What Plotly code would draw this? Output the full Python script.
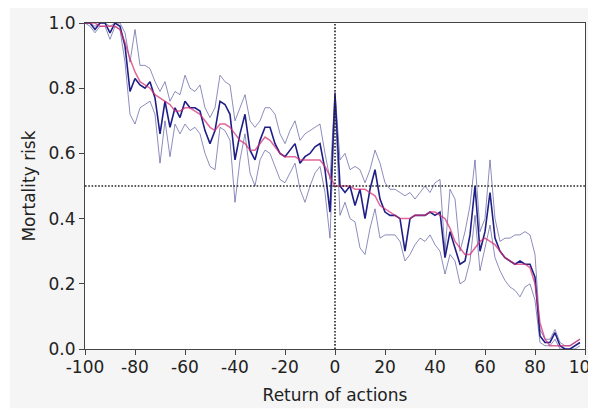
import plotly.graph_objects as go

x_vals = list(range(-100, 100, 2))

mean_risk = [1.00, 1.00, 0.98, 1.00, 1.00, 0.97, 1.00, 0.99, 0.93, 0.79,
             0.83, 0.81, 0.80, 0.82, 0.77, 0.66, 0.76, 0.68, 0.74, 0.71,
             0.76, 0.74, 0.74, 0.73, 0.67, 0.63, 0.67, 0.76, 0.75, 0.72,
             0.58, 0.66, 0.72, 0.61, 0.58, 0.64, 0.68, 0.68, 0.63, 0.60,
             0.59, 0.61, 0.63, 0.57, 0.59, 0.60, 0.62, 0.63, 0.55, 0.42,
             0.78, 0.50, 0.48, 0.50, 0.44, 0.49, 0.40, 0.49, 0.55, 0.46,
             0.42, 0.41, 0.41, 0.40, 0.30, 0.40, 0.41, 0.41, 0.41, 0.42,
             0.41, 0.42, 0.28, 0.36, 0.31, 0.26, 0.27, 0.35, 0.50, 0.30,
             0.36, 0.48, 0.34, 0.30, 0.28, 0.27, 0.26, 0.27, 0.26, 0.26,
             0.22, 0.04, 0.02, 0.02, 0.05, 0.01, 0.00, 0.00, 0.01, 0.02]

upper_risk = [1.00, 1.00, 0.99, 1.00, 1.00, 0.99, 1.00, 1.00, 0.97, 0.88,
              0.98, 0.87, 0.87, 0.86, 0.82, 0.79, 0.82, 0.76, 0.79, 0.78,
              0.84, 0.80, 0.79, 0.81, 0.74, 0.71, 0.74, 0.84, 0.82, 0.81,
              0.70, 0.74, 0.78, 0.70, 0.68, 0.70, 0.74, 0.74, 0.72, 0.66,
              0.63, 0.67, 0.70, 0.64, 0.66, 0.67, 0.68, 0.69, 0.60, 0.52,
              0.79, 0.58, 0.60, 0.55, 0.56, 0.55, 0.51, 0.55, 0.61, 0.57,
              0.51, 0.49, 0.49, 0.48, 0.47, 0.48, 0.46, 0.48, 0.50, 0.48,
              0.51, 0.52, 0.30, 0.49, 0.46, 0.30, 0.36, 0.44, 0.58, 0.36,
              0.40, 0.58, 0.40, 0.33, 0.34, 0.34, 0.35, 0.35, 0.36, 0.35,
              0.29, 0.06, 0.03, 0.03, 0.06, 0.02, 0.01, 0.01, 0.02, 0.03]

lower_risk = [1.00, 0.99, 0.97, 0.99, 0.99, 0.95, 0.99, 0.98, 0.88, 0.72,
              0.69, 0.74, 0.75, 0.76, 0.72, 0.57, 0.70, 0.59, 0.69, 0.66,
              0.69, 0.67, 0.68, 0.66, 0.60, 0.56, 0.55, 0.68, 0.67, 0.64,
              0.45, 0.58, 0.66, 0.54, 0.50, 0.58, 0.61, 0.60, 0.56, 0.52,
              0.51, 0.54, 0.57, 0.49, 0.45, 0.50, 0.54, 0.56, 0.48, 0.34,
              0.76, 0.41, 0.45, 0.40, 0.39, 0.31, 0.29, 0.37, 0.43, 0.34,
              0.35, 0.35, 0.35, 0.33, 0.27, 0.29, 0.32, 0.34, 0.33, 0.35,
              0.32, 0.30, 0.23, 0.29, 0.27, 0.20, 0.21, 0.27, 0.41, 0.24,
              0.31, 0.38, 0.28, 0.24, 0.21, 0.19, 0.18, 0.16, 0.19, 0.20,
              0.15, 0.02, 0.01, 0.01, 0.03, 0.00, 0.00, 0.00, 0.00, 0.01]

smooth_risk = [1.00, 1.00, 1.00, 0.99, 0.99, 0.99, 0.99, 0.98, 0.94, 0.89,
               0.85, 0.82, 0.81, 0.80, 0.78, 0.77, 0.76, 0.75, 0.73, 0.73,
               0.74, 0.74, 0.73, 0.72, 0.70, 0.68, 0.67, 0.69, 0.69, 0.68,
               0.66, 0.64, 0.63, 0.61, 0.61, 0.63, 0.65, 0.64, 0.62, 0.60,
               0.59, 0.59, 0.59, 0.58, 0.58, 0.58, 0.58, 0.58, 0.56, 0.53,
               0.50, 0.50, 0.50, 0.50, 0.49, 0.49, 0.49, 0.48, 0.47, 0.44,
               0.43, 0.42, 0.41, 0.40, 0.40, 0.40, 0.41, 0.41, 0.41, 0.42,
               0.42, 0.41, 0.40, 0.37, 0.33, 0.31, 0.29, 0.29, 0.31, 0.33,
               0.34, 0.33, 0.32, 0.30, 0.28, 0.27, 0.26, 0.26, 0.26, 0.25,
               0.20, 0.08, 0.03, 0.01, 0.01, 0.01, 0.01, 0.01, 0.02, 0.03]

x_ticks = [-100, -80, -60, -40, -20, 0, 20, 40, 60, 80, 100]
x_tick_labels = ["-100", "-80", "-60", "-40", "-20", "0", "20", "40", "60", "80", "100"]
y_ticks = [0.0, 0.2, 0.4, 0.6, 0.8, 1.0]
y_tick_labels = ["0.0", "0.2", "0.4", "0.6", "0.8", "1.0"]

fig = go.Figure()
bound_style = dict(color="rgba(75,75,150,0.8)", width=0.8)
fig.add_trace(go.Scatter(x=x_vals, y=upper_risk, mode="lines", line=bound_style, showlegend=False))
fig.add_trace(go.Scatter(x=x_vals, y=lower_risk, mode="lines", line=bound_style, showlegend=False))
fig.add_trace(go.Scatter(x=x_vals, y=mean_risk, mode="lines",
                         line=dict(color="#1e1e86", width=1.6), showlegend=False))
fig.add_trace(go.Scatter(x=x_vals, y=smooth_risk, mode="lines",
                         line=dict(color="rgba(210,45,115,0.72)", width=1.5), showlegend=False))

# gray figure background, white plotting area
fig.add_shape(type="rect", xref="paper", yref="paper", x0=-0.150, x1=1.017, y0=-0.182, y1=1.048,
              fillcolor="#f5f5f5", line=dict(width=0), layer="below")
fig.add_shape(type="rect", xref="paper", yref="paper", x0=0, x1=1, y0=0, y1=1,
              fillcolor="white", line=dict(width=0), layer="below")
# reference lines
dot_style = dict(color="#222222", width=1.6, dash="1.6px,1.7px")
fig.add_shape(type="line", xref="x", yref="y", x0=0, x1=0, y0=0, y1=1,
              line=dot_style, layer="above")
fig.add_shape(type="line", xref="x", yref="y", x0=-100, x1=100, y0=0.5, y1=0.5,
              line=dot_style, layer="above")

axis_font = dict(family="DejaVu Sans", size=17, color="#222222")
fig.update_layout(
    width=596, height=410,
    margin=dict(l=77, r=19, t=15, b=69),
    paper_bgcolor="white", plot_bgcolor="white",
    font=axis_font,
    xaxis=dict(range=[-100, 100], tickvals=x_ticks, ticktext=x_tick_labels,
               showgrid=False, zeroline=False, showline=True, mirror=True,
               linecolor="#444444", linewidth=1.2, ticks="outside", ticklen=5,
               tickcolor="#444444", tickfont=axis_font, automargin=False,
               ticklabelstandoff=-3,
               title=dict(text="Return of actions", font=axis_font, standoff=13)),
    yaxis=dict(range=[0, 1], tickvals=y_ticks, ticktext=y_tick_labels,
               showgrid=False, zeroline=False, showline=True, mirror=True,
               linecolor="#444444", linewidth=1.2, ticks="outside", ticklen=5,
               tickcolor="#444444", tickfont=axis_font, automargin=False,
               title=dict(text="Mortality risk", font=axis_font, standoff=8)),
)

fig.write_html("out.html")
